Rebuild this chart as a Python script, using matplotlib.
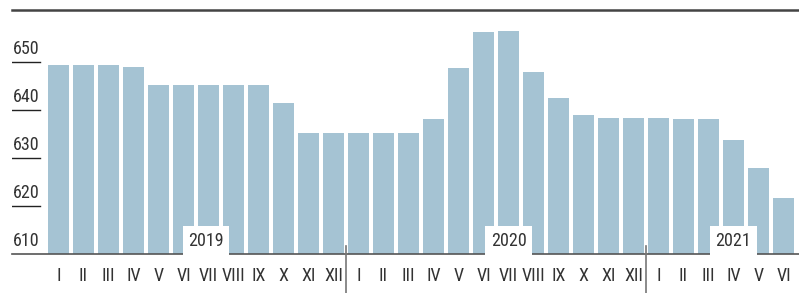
import matplotlib.pyplot as plt

months = ['I', 'II', 'III', 'IV', 'V', 'VI', 'VII', 'VIII', 'IX', 'X', 'XI', 'XII',
          'I', 'II', 'III', 'IV', 'V', 'VI', 'VII', 'VIII', 'IX', 'X', 'XI', 'XII',
          'I', 'II', 'III', 'IV', 'V', 'VI']
values = [649.4, 649.4, 649.4, 649.0, 645.2, 645.2, 645.2, 645.2, 645.2, 641.5, 635.2, 635.2,
          635.2, 635.2, 635.2, 638.1, 648.75, 656.25, 656.5, 647.9, 642.5, 639.0, 638.3, 638.3,
          638.3, 638.1, 638.1, 633.75, 627.9, 621.7]
years = ['2019', '2020', '2021']
year_pos = [5.9, 18.0, 27.0]
year_breaks = [11.5, 23.5]
yticks = [610, 620, 630, 640, 650]

plt.rcParams['font.family'] = ['Roboto Condensed', 'DejaVu Sans']
txt = '#333333'
bar_color = '#a5c3d3'

W, H = 799, 293
fig = plt.figure(figsize=(W / 100, H / 100), dpi=100)
ax = fig.add_axes([12 / W, 39 / H, 787 / W, 244 / H])

x = list(range(len(values)))
ax.bar(x, [v - 610 for v in values], bottom=610, width=0.83, color=bar_color, zorder=2)

ax.set_xlim(-1.86, 29.62)
ax.set_ylim(610, 610 + 244 / 4.8)

for s in ['left', 'right']:
    ax.spines[s].set_visible(False)
ax.spines['top'].set_color('#444444')
ax.spines['top'].set_linewidth(1.8)
ax.spines['bottom'].set_color('#555555')
ax.spines['bottom'].set_linewidth(1.2)
ax.set_xticks([])
ax.set_yticks([])

# y labels with short underlines
for v in yticks:
    ax.text(-1.84, v + 0.8, str(v), ha='left', va='bottom', fontsize=13, color=txt)
    if v > 610:
        ax.plot([-1.86, -0.74], [v, v], color='#222222', lw=1.0, zorder=3)

# month labels
for i, m in enumerate(months):
    ax.text(i, 610 - 22 / 4.8, m, ha='center', va='center', fontsize=13, color=txt, clip_on=False)

# year labels
for y, p in zip(years, year_pos):
    ax.text(p, 610 + 4.5 / 4.8, y, ha='center', va='bottom', fontsize=13, color=txt, zorder=4,
            bbox=dict(boxstyle='square,pad=0.3', fc='white', ec='none'))

# year dividers
for b in year_breaks:
    ax.plot([b, b], [610 + 8 / 4.8, 610 - 40 / 4.8], color='#777777', lw=1.2, clip_on=False, zorder=5)

fig.savefig('out.png', dpi=100)
